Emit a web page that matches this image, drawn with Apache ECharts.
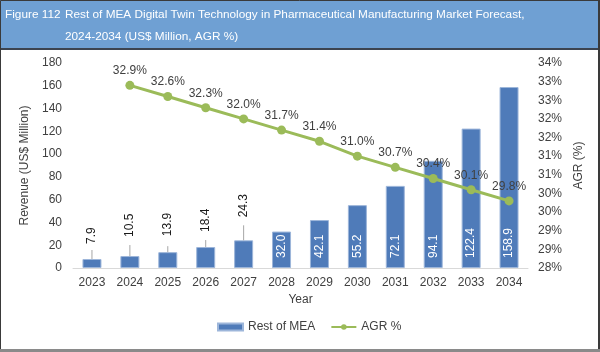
<!DOCTYPE html>
<html>
<head>
<meta charset="utf-8">
<script src="https://cdn.jsdelivr.net/npm/echarts@6/dist/echarts.min.js"></script>
<style>html,body{margin:0;padding:0;background:#fff;}#c{width:600px;height:352px;}</style>
</head>
<body>
<div id="c"></div>
<script>
const years = ['2023','2024','2025','2026','2027','2028','2029','2030','2031','2032','2033','2034'];
const revenue = [7.9, 10.5, 13.9, 18.4, 24.3, 32.0, 42.1, 55.2, 72.1, 94.1, 122.4, 158.9];
const agr = [null, 32.9, 32.6, 32.3, 32.0, 31.7, 31.4, 31.0, 30.7, 30.4, 30.1, 29.8];
const titleLine1 = 'Rest of MEA Digital Twin Technology in Pharmaceutical Manufacturing Market Forecast,';
const titleLine2 = '2024-2034 (US$ Million, AGR %)';
const figureNo = 'Figure 112';

const FONT = '"Liberation Sans", Arial, sans-serif';
// styling for the outside (above-bar) labels: label gap and leader line length, in px
const outsideGap = [15, 19, 16, 15, 23];
const leaderLen = [9, 11, 6, 7, 15];
const isOutside = v => v < 25;

const chart = echarts.init(document.getElementById('c'), null, {renderer: 'canvas'});
chart.setOption({
  animation: false,
  textStyle: {fontFamily: FONT},
  graphic: [
    {type: 'rect', z: -10, shape: {x: 0, y: 0, width: 600, height: 48}, style: {fill: '#6fa0d3'}},
    {type: 'rect', z: -10, shape: {x: 0, y: 48, width: 600, height: 2}, style: {fill: '#3c4450'}},
    {type: 'rect', z: 100, shape: {x: 0.5, y: 0.5, width: 598, height: 350}, style: {fill: 'none', stroke: '#3a3a3a', lineWidth: 1}},
    {type: 'rect', z: 100, shape: {x: 598, y: 0, width: 2, height: 352}, style: {fill: '#3a3a3a'}},
    {type: 'rect', z: 100, shape: {x: 0, y: 349, width: 600, height: 3}, style: {fill: '#8a8a8a'}}
  ],
  title: [
    {text: figureNo, left: 5, top: 4, padding: 0,
     textStyle: {color: '#fff', fontSize: 11.8, fontWeight: 'normal', lineHeight: 22, fontFamily: FONT}},
    {text: titleLine1 + '\n' + titleLine2, left: 65, top: 4, padding: 0,
     textStyle: {color: '#fff', fontSize: 11.8, fontWeight: 'normal', lineHeight: 22, fontFamily: FONT}}
  ],
  legend: {
    left: 212, top: 316,
    itemGap: 15,
    itemWidth: 25, itemHeight: 7,
    textStyle: {color: '#404040', fontSize: 12, fontFamily: FONT},
    data: [{name: 'Rest of MEA', icon: 'rect'}, {name: 'AGR %'}]
  },
  grid: {left: 73, right: 72, top: 63, bottom: 84},
  xAxis: {
    type: 'category', data: years,
    name: 'Year', nameLocation: 'middle', nameGap: 24,
    nameTextStyle: {color: '#404040', fontSize: 12},
    axisLine: {lineStyle: {color: '#d9d9d9', width: 1}},
    axisTick: {show: false},
    axisLabel: {color: '#404040', fontSize: 12, margin: 9}
  },
  yAxis: [
    {type: 'value', min: 0, max: 180, interval: 20,
     name: 'Revenue (US$ Million)', nameLocation: 'middle', nameGap: 32, nameRotate: 90,
     nameTextStyle: {color: '#404040', fontSize: 12},
     axisLine: {show: false}, axisTick: {show: false}, splitLine: {show: false},
     axisLabel: {color: '#404040', fontSize: 12, margin: 11}},
    {type: 'value', min: 28, max: 33.5, interval: 0.5, position: 'right',
     name: 'AGR (%)', nameLocation: 'middle', nameGap: 30, nameRotate: 90,
     nameTextStyle: {color: '#404040', fontSize: 12},
     axisLine: {show: false}, axisTick: {show: false}, splitLine: {show: false},
     axisLabel: {color: '#404040', fontSize: 12, margin: 10, formatter: v => Math.round(v) + '%'}}
  ],
  series: [
    {
      name: 'Rest of MEA', type: 'bar', yAxisIndex: 0, barWidth: 19,
      itemStyle: {color: '#4f7bb9', borderColor: '#9db6da', borderWidth: 1},
      data: revenue.map((v, i) => isOutside(v) ? {
        value: v,
        label: {position: 'top', distance: outsideGap[i], rotate: 90, align: 'left', verticalAlign: 'middle', color: '#1a1a1a'}
      } : {
        value: v,
        label: {position: 'insideBottom', distance: 10, rotate: 90, align: 'left', verticalAlign: 'middle', color: '#fff'}
      }),
      label: {show: true, fontSize: 12, formatter: p => p.value.toFixed(1)}
    },
    {
      name: 'leaders', type: 'custom', yAxisIndex: 0, silent: true, z: 3,
      data: revenue.map((v, i) => [i, v]).filter(d => isOutside(d[1])),
      renderItem: (params, api) => {
        const p = api.coord([api.value(0), api.value(1)]);
        const idx = api.value(0);
        return {type: 'line', shape: {x1: p[0], y1: p[1], x2: p[0], y2: p[1] - leaderLen[idx]},
                style: {stroke: '#a6a6a6', lineWidth: 1}};
      }
    },
    {
      name: 'AGR %', type: 'line', yAxisIndex: 1, data: agr,
      symbol: 'circle', symbolSize: 9,
      lineStyle: {color: '#9bbb59', width: 3},
      itemStyle: {color: '#9bbb59'},
      label: {show: true, position: 'top', distance: 4, color: '#404040', fontSize: 12,
              formatter: p => p.value.toFixed(1) + '%'},
      z: 5
    }
  ]
});
</script>
</body>
</html>
